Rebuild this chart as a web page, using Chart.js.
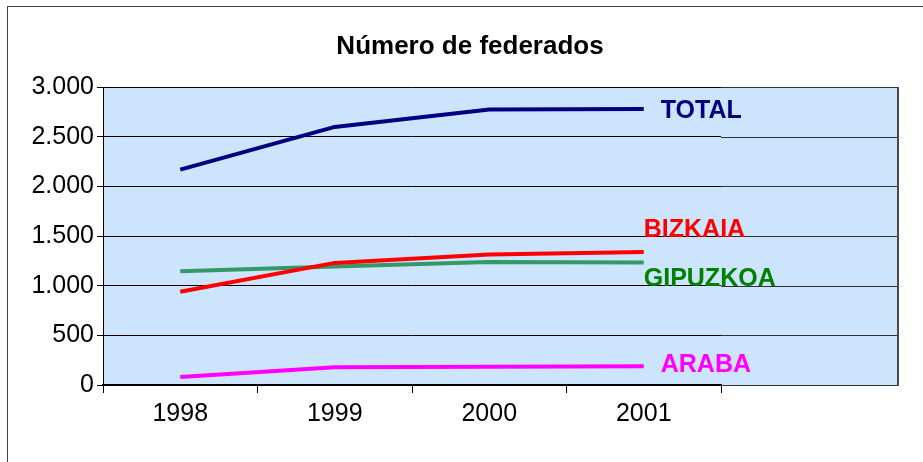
<!DOCTYPE html>
<html>
<head>
<meta charset="utf-8">
<script src="https://cdn.jsdelivr.net/npm/chart.js@4.4.1/dist/chart.umd.min.js"></script>
<style>
  html, body { margin: 0; padding: 0; background: #ffffff; }
  #wrap { width: 923px; height: 462px; }
</style>
</head>
<body>
<div id="wrap"><canvas id="c" width="923" height="462"></canvas></div>
<script>
// ---- data ----
const years = ['1998', '1999', '2000', '2001'];
const seriesNames = ['TOTAL', 'BIZKAIA', 'GIPUZKOA', 'ARABA'];
const totalValues = [2170, 2600, 2775, 2780];
const bizkaiaValues = [940, 1230, 1315, 1340];
const gipuzkoaValues = [1145, 1195, 1238, 1235];
const arabaValues = [80, 180, 185, 190];
const yTickStep = 500;
const yMax = 3000;

// ---- styles ----
const FONT = '"Liberation Sans", Arial, sans-serif';
const lineColors = ['#000080', '#FF0000', '#339966', '#FF00FF'];
const labelColors = ['#000080', '#FF0000', '#008000', '#FF00FF'];
// label placement relative to the last point of each series (dx, dy to baseline)
const labelOffsets = [[17, 9], [0, -15], [0, 24], [17, 6]];
const PLOT_BG = '#CCE4FC';
const EXTRA_BOX = 177; // width of the plot box beyond the category axis

const fmt = v => {
  const s = String(Math.round(v));
  return s.replace(/\B(?=(\d{3})+(?!\d))/g, '.');
};

const decor = {
  id: 'decor',
  beforeDraw(chart) {
    const ctx = chart.ctx, a = chart.chartArea;
    ctx.save();
    ctx.fillStyle = '#ffffff';
    ctx.fillRect(0, 0, chart.width, chart.height);
    // outer frame (only top and left visible)
    ctx.strokeStyle = '#404040';
    ctx.lineWidth = 1;
    ctx.strokeRect(7.5, 6.5, chart.width + 20, chart.height + 20);
    // plot background incl. extension
    ctx.fillStyle = PLOT_BG;
    ctx.fillRect(a.left, a.top, a.right - a.left + EXTRA_BOX, a.bottom - a.top);
    ctx.restore();
  },
  beforeDatasetsDraw(chart) {
    const ctx = chart.ctx, a = chart.chartArea, y = chart.scales.y;
    const xr = a.right + EXTRA_BOX;
    ctx.save();
    ctx.strokeStyle = '#333333';
    ctx.lineWidth = 1;
    y.ticks.forEach(t => {
      const py = Math.round(y.getPixelForValue(t.value)) + 0.5;
      ctx.beginPath();
      ctx.moveTo(a.right, py);
      ctx.lineTo(xr, py);
      ctx.stroke();
    });
    // right border of box
    ctx.strokeStyle = '#4a4a4a';
    ctx.lineWidth = 2;
    ctx.beginPath();
    ctx.moveTo(Math.round(xr), Math.round(a.top));
    ctx.lineTo(Math.round(xr), Math.round(a.bottom) + 1);
    ctx.stroke();
    ctx.restore();
  },
  afterDatasetsDraw(chart) {
    const ctx = chart.ctx;
    ctx.save();
    ctx.font = 'bold 25px ' + FONT;
    ctx.textAlign = 'left';
    ctx.textBaseline = 'alphabetic';
    chart.data.datasets.forEach((ds, i) => {
      const meta = chart.getDatasetMeta(i);
      const pt = meta.data[meta.data.length - 1];
      ctx.fillStyle = labelColors[i];
      ctx.fillText(ds.label, pt.x + labelOffsets[i][0], pt.y + labelOffsets[i][1]);
    });
    ctx.restore();
  }
};

const valueSets = [totalValues, bizkaiaValues, gipuzkoaValues, arabaValues];

new Chart(document.getElementById('c'), {
  type: 'line',
  data: {
    labels: years,
    datasets: seriesNames.map((name, i) => ({
      label: name,
      data: valueSets[i],
      borderColor: lineColors[i],
      backgroundColor: lineColors[i],
      borderWidth: 4,
      pointRadius: 0,
      tension: 0,
      borderCapStyle: 'butt',
      borderJoinStyle: 'round',
      fill: false,
      clip: false
    }))
  },
  options: {
    responsive: false,
    animation: false,
    events: [],
    layout: { padding: { left: 17, right: 0, top: 0, bottom: 0 } },
    plugins: {
      legend: { display: false },
      tooltip: { enabled: false },
      title: {
        display: true,
        text: 'Número de federados',
        color: '#000000',
        font: { family: FONT, size: 26, weight: 'bold' },
        padding: { top: 31, bottom: 25 }
      }
    },
    scales: {
      x: {
        type: 'category',
        offset: true,
        grid: { display: true, drawOnChartArea: false, drawTicks: true, tickLength: 8, color: '#000000', offset: true },
        border: { display: true, color: '#000000', width: 2 },
        ticks: { color: '#000000', font: { family: FONT, size: 25 }, padding: 6, maxRotation: 0 },
        afterFit: s => { s.height = 77; }
      },
      y: {
        min: 0,
        max: yMax,
        ticks: { stepSize: yTickStep, color: '#000000', font: { family: FONT, size: 25 }, padding: 3, callback: v => fmt(v) },
        grid: { color: '#000000', lineWidth: 1, drawTicks: true, tickLength: 6 },
        border: { display: true, color: '#000000', width: 1 },
        afterFit: s => { s.width = 86; }
      },
      yR: {
        position: 'right',
        display: true,
        grid: { display: false },
        border: { display: false },
        ticks: { display: false },
        afterFit: s => { s.width = 202; }
      }
    }
  },
  plugins: [decor]
});
</script>
</body>
</html>
